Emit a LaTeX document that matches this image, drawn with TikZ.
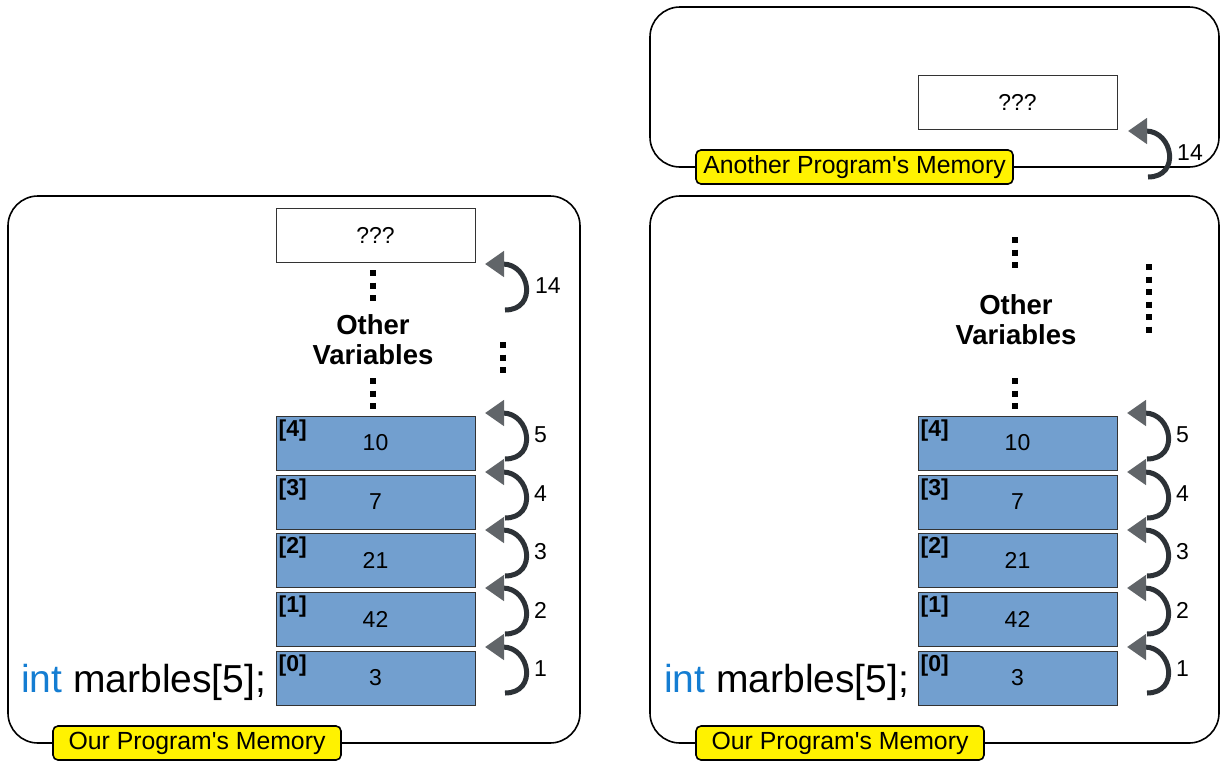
\documentclass[tikz,border=0pt]{standalone}
\usepackage{fontspec}
\setmainfont{Liberation Sans}
\usetikzlibrary{arrows.meta}
\definecolor{cellblue}{HTML}{729FCF}
\definecolor{intblue}{RGB}{20,125,210}
\definecolor{arr}{RGB}{45,50,55}
\begin{document}
\begin{tikzpicture}[x=1pt,y=-1pt,
 panel/.style={draw, line width=1.6pt, rounded corners=30pt},
 tag/.style={draw, line width=1.6pt, fill=yellow, rounded corners=5pt, font=\fontsize{24.8}{28}\selectfont, inner sep=0pt, minimum height=34pt},
 cell/.style={draw=black!80, line width=1pt, fill=cellblue, minimum width=199pt, minimum height=54pt, inner sep=0pt, font=\fontsize{23}{26}\selectfont},
 qcell/.style={cell, fill=white},
 idx/.style={font=\bfseries\fontsize{23}{26}\selectfont, anchor=north west, inner sep=0pt},
 dotcol/.style={line width=6pt, dash pattern=on 6pt off 6.5pt},
 loopy/.style={draw=arr, line width=5pt, -{Triangle[length=19pt,width=25pt,color=arr!75,fill=arr!75]}},
 num/.style={font=\fontsize{23}{26}\selectfont, anchor=west, inner sep=0pt},
 other/.style={font=\bfseries\fontsize{27.5}{30}\selectfont, align=center},
 code/.style={font=\fontsize{39}{44}\selectfont, anchor=base west, inner sep=0pt},
 ]
\useasboundingbox (0,0) rectangle (1221,761);

% ---------- panels ----------
\draw[panel] (8,196) rectangle (580,743);
\draw[panel] (650,196) rectangle (1219,743);
\draw[panel] (650,7) rectangle (1219,167);

\node[tag, minimum width=288pt] (tagL) at (197,743) {\raisebox{-2pt}{Our Program\textquotesingle s Memory}};
\node[tag, minimum width=288pt] (tagR) at (840,743) {\raisebox{-2pt}{Our Program\textquotesingle s Memory}};
\node[tag, minimum width=317pt] (tagA) at (854.5,167) {\raisebox{-2pt}{Another Program\textquotesingle s Memory}};

% ---------- left memory ----------
\node[qcell] (lq) at (375.5,235) {???};
\foreach \i/\v/\y in {4/10/443,3/7/502,2/21/560,1/42/619,0/3/678}{
  \node[cell] (l\i) at (375.5,\y) {\raisebox{-3pt}{\v}};
  \node[idx] (li\i) at ([xshift=3pt,yshift=-4pt]l\i.north west) {[\i]};
}
\draw[dotcol] (373,270) -- (373,301);
\node[other] (lov) at (373,340) {Other\\Variables};
\draw[dotcol] (373,378) -- (373,409);
\draw[dotcol] (503,342) -- (503,373);
\node[code] (lcode) at (21,692) {\textcolor{intblue}{int} marbles[5];};

\foreach \n/\t in {5/413,4/472,3/530,2/588,1/647}{
  \coordinate (lb\n) at (505,\t+46);
  \coordinate (lt\n) at (485,\t);
  \draw[loopy] (lb\n) .. controls +(33,0) and +(45,0) .. (lt\n);
  \node[num] (ln\n) at (534,\t+22) {\n};
}
\coordinate (lb14) at (505,310);
\coordinate (lt14) at (485,264);
\draw[loopy] (lb14) .. controls +(33,0) and +(45,0) .. (lt14);
\node[num] (ln14) at (535,286) {14};

% ---------- right memory ----------
\node[qcell] (aq) at (1017.5,102) {???};
\foreach \i/\v/\y in {4/10/443,3/7/502,2/21/560,1/42/619,0/3/678}{
  \node[cell] (r\i) at (1017.5,\y) {\raisebox{-3pt}{\v}};
  \node[idx] (ri\i) at ([xshift=3pt,yshift=-4pt]r\i.north west) {[\i]};
}
\draw[dotcol] (1015,237) -- (1015,268);
\node[other] (rov) at (1016,320) {Other\\Variables};
\draw[dotcol] (1015,378) -- (1015,409);
\draw[dotcol] (1149,264) -- (1149,333);
\node[code] (rcode) at (664,692) {\textcolor{intblue}{int} marbles[5];};

\foreach \n/\t in {5/413,4/472,3/530,2/588,1/647}{
  \coordinate (rb\n) at (1147,\t+46);
  \coordinate (rt\n) at (1127,\t);
  \draw[loopy] (rb\n) .. controls +(33,0) and +(45,0) .. (rt\n);
  \node[num] (rn\n) at (1176,\t+22) {\n};
}
\coordinate (rb14) at (1148,177);
\coordinate (rt14) at (1128,131);
\draw[loopy] (rb14) .. controls +(33,0) and +(45,0) .. (rt14);
\node[num] (rn14) at (1177,153) {14};
\end{tikzpicture}
\end{document}
